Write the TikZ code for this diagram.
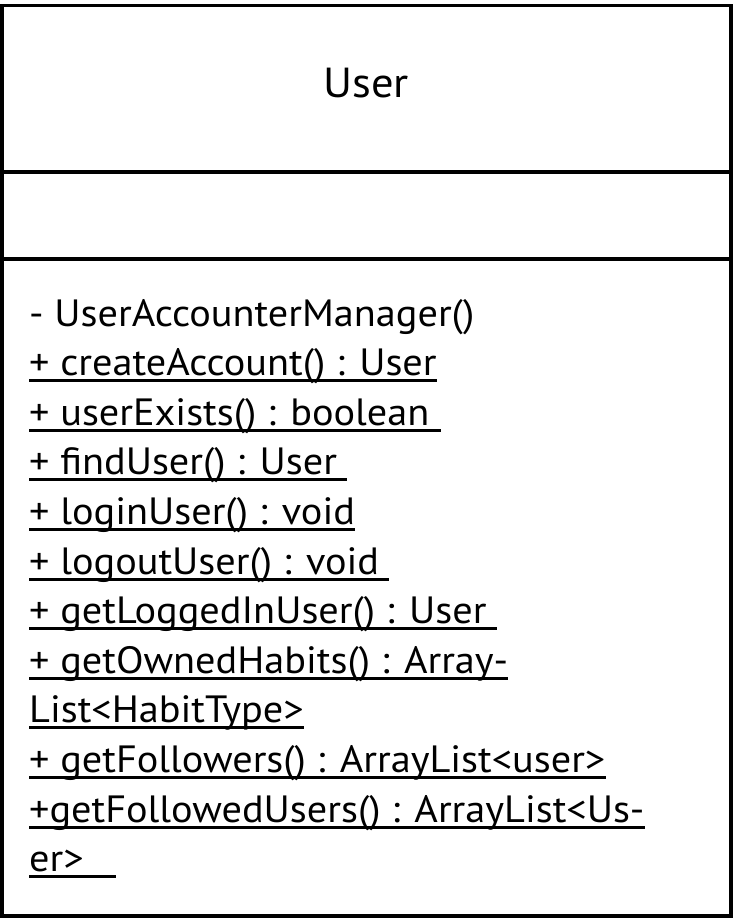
\documentclass[tikz,border=0pt]{standalone}
\usepackage{fontspec}
\setmainfont[FakeStretch=1.06]{PT Sans}
\begin{document}
\begin{tikzpicture}[x=1pt,y=-1pt,
  frame/.style={line width=3.5pt,draw=black},
  member/.style={anchor=base west,inner sep=0pt,font=\fontsize{38}{40}\selectfont},
  ul/.style={line width=3pt,draw=black}]
\useasboundingbox (0,0) rectangle (733,918);
\draw[frame] (1.75,5.6) rectangle (731.2,916.1);
\draw[frame] (0,172) -- (733,172);
\draw[frame] (0,259) -- (733,259);
\node[anchor=base,inner sep=0pt,font=\fontsize{42}{44}\selectfont] (title) at (366,97) {User};
\foreach \i/\t/\u in {
  0/{- UserAccounterManager()}/0,
  1/{+ createAccount() : User}/1,
  2/{+ userExists() : boolean\rule{11pt}{0pt}}/1,
  3/{+ findUser() : User\rule{10pt}{0pt}}/1,
  4/{+ loginUser() : void}/1,
  5/{+ logoutUser() : void\rule{10pt}{0pt}}/1,
  6/{+ getLoggedInUser() : User\rule{10pt}{0pt}}/1,
  7/{+ getOwnedHabits() : Array-}/1,
  8/{List<HabitType>}/1,
  9/{+ getFollowers() : ArrayList<user>}/1,
  10/{+getFollowedUsers() : ArrayList<Us-}/1,
  11/{er>\rule{32pt}{0pt}}/1}{
  \node[member] (m\i) at (29,{326+49.6*\i}) {\t};
  \ifnum\u=1
    \draw[ul] ([yshift=-5pt]m\i.base west) -- ([yshift=-5pt]m\i.base east);
  \fi
}
\end{tikzpicture}
\end{document}
